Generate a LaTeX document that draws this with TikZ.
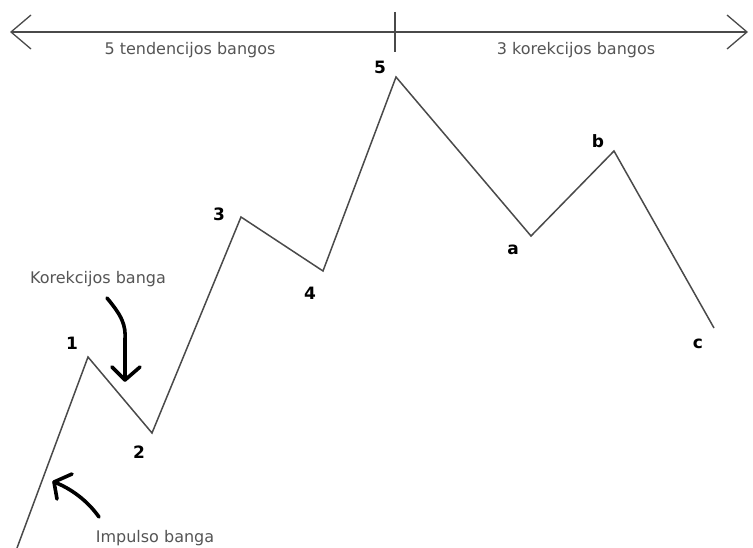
\documentclass[tikz,border=0pt]{standalone}
\usepackage{fontspec}
\setmainfont{DejaVu Sans}
\usetikzlibrary{arrows.meta}
\definecolor{linegray}{HTML}{4A4A4A}
\definecolor{txtgray}{HTML}{555555}
\begin{document}
\begin{tikzpicture}[x=1pt,y=-1pt,
  wave/.style={draw=linegray,line width=1.5pt,line join=miter},
  lbl/.style={font=\fontsize{17}{17}\selectfont\bfseries,text=black,inner sep=0pt},
  note/.style={font=\fontsize{16}{16}\selectfont,text=txtgray,inner sep=0pt},
  handarrow/.style={draw=black,line width=3.6pt,line cap=round,line join=round}]
\useasboundingbox (0,0) rectangle (753,548);
\fill[white] (0,0) rectangle (753,548);
% top axis
\coordinate (L) at (10,32);
\coordinate (R) at (748,32);
\coordinate (T1) at (395,12);
\coordinate (T2) at (395,52);
\draw[draw=linegray,line width=1.3pt,{Straight Barb[length=20pt,width=34pt,line width=1.3pt]}-{Straight Barb[length=20pt,width=34pt,line width=1.3pt]}] (L) -- (R);
\draw[draw=linegray,line width=1.3pt] (T1) -- (T2);
\node[note] (tl) at (190,50) {5 tendencijos bangos};
\node[note] (tr) at (576,50) {3 korekcijos bangos};
% wave points
\coordinate (p0) at (17,548);
\coordinate (p1) at (88,357);
\coordinate (p2) at (152,433);
\coordinate (p3) at (241,217);
\coordinate (p4) at (323,271);
\coordinate (p5) at (396,77);
\coordinate (pa) at (531,236);
\coordinate (pb) at (614,151);
\coordinate (pc) at (714,328);
\draw[wave] (p0) -- (p1) -- (p2) -- (p3) -- (p4) -- (p5) -- (pa) -- (pb) -- (pc);
% labels
\node[lbl] (l1) at (72,343) {1};
\node[lbl] (l2) at (139,452) {2};
\node[lbl] (l3) at (219,214) {3};
\node[lbl] (l4) at (310,293) {4};
\node[lbl] (l5) at (380,67) {5};
\node[lbl] (la) at (513,250) {a};
\node[lbl] (lb) at (598,141) {b};
\node[lbl] (lc) at (698,344) {c};
% notes
\node[note] (kb) at (98,279) {Korekcijos banga};
\node[note] (ib) at (155,538) {Impulso banga};
% hand-drawn arrows
\coordinate (ks) at (107,298);
\coordinate (kt) at (125,380);
\draw[handarrow] (ks) .. controls (122,316) and (126,325) .. (125,340) -- (kt);
\draw[handarrow] (112,367) -- (kt) -- (140,367);
\coordinate (is) at (99,517);
\coordinate (it) at (54,482);
\draw[handarrow] (is) .. controls (87,500) and (70,488) .. (it);
\draw[handarrow] (57,499) -- (it) -- (72,474);
\end{tikzpicture}
\end{document}
